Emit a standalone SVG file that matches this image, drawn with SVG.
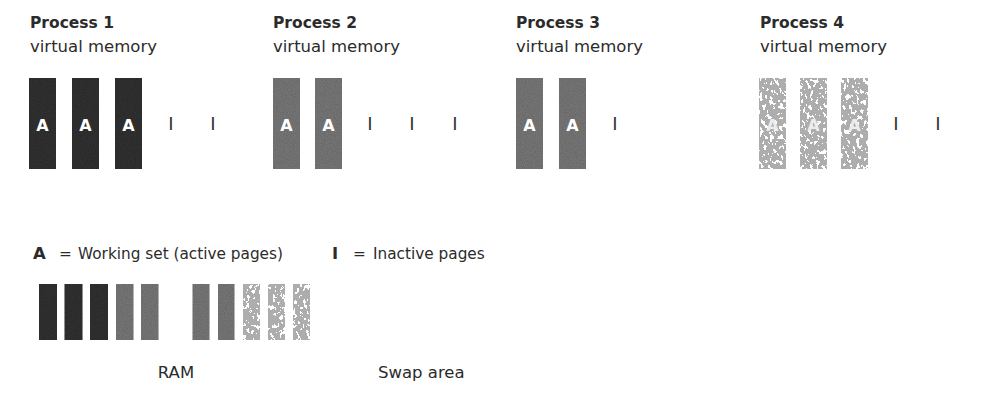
<svg xmlns="http://www.w3.org/2000/svg" width="985" height="401" viewBox="0 0 985 401">
<style>
text{font-family:"DejaVu Sans","Liberation Sans",sans-serif;fill:#2b2b2b}
.title{font-size:15.5px;font-weight:bold}
.sub{font-size:16.5px}
.dark{fill:#333333;filter:url(#grain)}
.mid{fill:#767676;filter:url(#grain)}
.light{fill:#adadad;filter:url(#mottle)}
.a{font-size:16px;font-weight:bold;fill:#ffffff;text-anchor:middle}
.a4{font-size:16px;font-weight:bold;fill:#ececec;text-anchor:middle}
.i{font-size:18px;text-anchor:middle;fill:#333}
.leg{font-size:15.3px}
.legb{font-size:16.5px;font-weight:bold}
.lab{font-size:16.5px}
</style>
<defs>
<filter id="grain" x="0" y="0" width="1" height="1">
<feTurbulence type="fractalNoise" baseFrequency="0.9" numOctaves="2" seed="5" result="n"/>
<feColorMatrix in="n" type="matrix" values="0 0 0 0 0  0 0 0 0 0  0 0 0 0 0  0 0 0 0.5 -0.15" result="g"/>
<feComposite in="g" in2="SourceGraphic" operator="in" result="gi"/>
<feMerge><feMergeNode in="SourceGraphic"/><feMergeNode in="gi"/></feMerge>
</filter>
<filter id="mottle" x="0" y="0" width="1" height="1" color-interpolation-filters="sRGB">
<feTurbulence type="fractalNoise" baseFrequency="0.3 0.2" numOctaves="3" seed="7" result="n"/>
<feColorMatrix in="n" type="matrix" values="0 0 0 0 0  0 0 0 0 0  0 0 0 0 0  1 0 0 0 0" result="m"/>
<feComponentTransfer in="m" result="t"><feFuncA type="discrete" tableValues="0 0 0 0 1 1 1 1 1 1"/></feComponentTransfer>
<feComposite in="SourceGraphic" in2="t" operator="in"/>
</filter>
</defs>

<g id="process1">
<text class="title" x="30" y="28">Process 1</text>
<text class="sub" x="30" y="52">virtual memory</text>
<rect class="dark" x="29" y="78" width="27" height="91"/>
<rect class="dark" x="72" y="78" width="27" height="91"/>
<rect class="dark" x="115" y="78" width="27" height="91"/>
<text class="a" x="42.5" y="131">A</text>
<text class="a" x="85.5" y="131">A</text>
<text class="a" x="128.5" y="131">A</text>
<text class="i" x="171" y="130">I</text>
<text class="i" x="213" y="130">I</text>
</g>

<g id="process2">
<text class="title" x="273" y="28">Process 2</text>
<text class="sub" x="273" y="52">virtual memory</text>
<rect class="mid" x="273" y="78" width="27" height="91"/>
<rect class="mid" x="315" y="78" width="27" height="91"/>
<text class="a" x="286.5" y="131">A</text>
<text class="a" x="328.5" y="131">A</text>
<text class="i" x="370" y="130">I</text>
<text class="i" x="412" y="130">I</text>
<text class="i" x="455" y="130">I</text>
</g>

<g id="process3">
<text class="title" x="516" y="28">Process 3</text>
<text class="sub" x="516" y="52">virtual memory</text>
<rect class="mid" x="516" y="78" width="27" height="91"/>
<rect class="mid" x="559" y="78" width="27" height="91"/>
<text class="a" x="529.5" y="131">A</text>
<text class="a" x="572.5" y="131">A</text>
<text class="i" x="615" y="130">I</text>
</g>

<g id="process4">
<text class="title" x="760" y="28">Process 4</text>
<text class="sub" x="760" y="52">virtual memory</text>
<rect class="light" x="759" y="78" width="27" height="91"/>
<rect class="light" x="800" y="78" width="27" height="91"/>
<rect class="light" x="841" y="78" width="27" height="91"/>
<text class="a4" x="772.5" y="131">A</text>
<text class="a4" x="813.5" y="131">A</text>
<text class="a4" x="854.5" y="131">A</text>
<text class="i" x="896" y="130">I</text>
<text class="i" x="938" y="130">I</text>
</g>

<g id="legend">
<text class="legb" x="33" y="259">A</text>
<text class="leg" x="59" y="259">=</text>
<text class="leg" x="78" y="259">Working set (active pages)</text>
<text class="legb" x="332" y="259">I</text>
<text class="leg" x="353" y="259">=</text>
<text class="leg" x="373" y="259">Inactive pages</text>
</g>

<g id="ram">
<rect class="dark" x="39" y="284" width="18" height="56"/>
<rect class="dark" x="64.5" y="284" width="18" height="56"/>
<rect class="dark" x="90" y="284" width="18" height="56"/>
<rect class="mid" x="116" y="284" width="17.5" height="56"/>
<rect class="mid" x="141" y="284" width="17.5" height="56"/>
<rect class="mid" x="192.5" y="284" width="17" height="56"/>
<rect class="mid" x="218" y="284" width="16.5" height="56"/>
<rect class="light" x="243" y="284" width="17" height="56"/>
<rect class="light" x="268" y="284" width="17" height="56"/>
<rect class="light" x="293" y="284" width="17" height="56"/>
<text class="lab" x="176" y="378" text-anchor="middle">RAM</text>
</g>

<g id="swap">
<text class="lab" x="378" y="378">Swap area</text>
</g>
</svg>
